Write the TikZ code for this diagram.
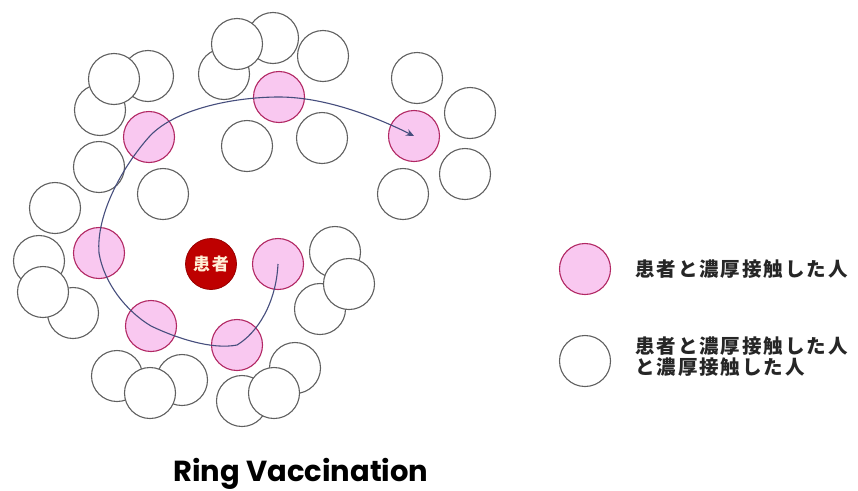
\documentclass[tikz,border=0pt]{standalone}
\usepackage{fontspec}
\newfontfamily\jpfont[LetterSpace=10]{Noto Sans CJK JP}
\newfontfamily\titlefont{Poppins}
\usetikzlibrary{arrows.meta}
\definecolor{pinkfill}{RGB}{249,200,240}
\definecolor{pinkline}{RGB}{178,40,100}
\definecolor{patred}{RGB}{190,0,0}
\definecolor{ringline}{RGB}{96,96,96}
\definecolor{spiral}{RGB}{70,78,125}
\begin{document}
\begin{tikzpicture}[x=1pt,y=-1pt,
  other/.style={circle, draw=ringline, fill=white, line width=1.1pt, minimum size=51pt, inner sep=0pt},
  close/.style={circle, draw=pinkline, fill=pinkfill, line width=1.1pt, minimum size=51pt, inner sep=0pt},
  patient/.style={circle, draw=patred!80!black, fill=patred, line width=0.8pt, minimum size=51pt, inner sep=0pt,
    text={rgb,255:red,255;green,240;blue,215}, font=\jpfont\bfseries\fontsize{17}{17}\selectfont},
  spiralline/.style={draw=spiral, line width=1.1pt, -{Stealth[length=8pt,width=7pt]}},
  legendtext/.style={anchor=west, align=left, inner sep=0pt, font=\jpfont\bfseries\fontsize{19.5}{21}\selectfont, text=black!85}
]
\useasboundingbox[fill=white] (0,0) rectangle (858,490);

% second ring (people who contacted close contacts)
\node[other] (w2) at (148,76) {};
\node[other] (w3) at (100,110) {};
\node[other] (w1) at (114,79) {};
\node[other] (w4) at (99,167) {};
\node[other] (w5) at (163,194) {};
\node[other] (w6) at (55,208) {};
\node[other] (w7) at (273,38) {};
\node[other] (w8) at (224,74) {};
\node[other] (w9) at (237,44) {};
\node[other] (w10) at (323,56) {};
\node[other] (w11) at (247,146) {};
\node[other] (w12) at (322,138) {};
\node[other] (w13) at (417,78) {};
\node[other] (w14) at (470,113) {};
\node[other] (w15) at (465,174) {};
\node[other] (w16) at (403,194) {};
\node[other] (w17) at (39,261) {};
\node[other] (w18) at (73,313) {};
\node[other] (w19) at (43,292) {};
\node[other] (w20) at (335,252) {};
\node[other] (w21) at (320,309) {};
\node[other] (w22) at (349,284) {};
\node[other] (w23) at (117,376) {};
\node[other] (w24) at (182,380) {};
\node[other] (w25) at (150,393) {};
\node[other] (w26) at (295,368) {};
\node[other] (w27) at (242,401) {};
\node[other] (w28) at (274,393) {};

% close contacts
\node[close] (p1) at (278,264) {};
\node[close] (p2) at (237,345) {};
\node[close] (p3) at (151,326) {};
\node[close] (p4) at (99,253) {};
\node[close] (p5) at (149,137) {};
\node[close] (p6) at (279,97) {};
\node[close] (p7) at (414,136) {};

% patient
\node[patient] (pt) at (211,264) {患者};

% spiral
\draw[spiralline] (p1.center)
  .. controls +(-2,40) and +(20,-12) .. (p2.center)
  .. controls +(-25,5) and +(25,12) .. (p3.center)
  .. controls +(-25,-15) and +(5,30) .. (p4.center)
  .. controls +(-3,-40) and +(-25,28) .. (p5.center)
  .. controls +(25,-28) and +(-45,0) .. (p6.center)
  .. controls +(45,0) and +(-40,-20) .. (p7.center);

% legend
\node[close] (lg1) at (585,269) {};
\node[other] (lg2) at (585,361) {};
\node[legendtext] (lt1) at (635,269) {患者と濃厚接触した人};
\node[legendtext] (lt2) at (635,357) {患者と濃厚接触した人\\と濃厚接触した人};

% title
\node[anchor=base, inner sep=0pt, font=\titlefont\bfseries\fontsize{29}{29}\selectfont] (title) at (301,481) {Ring Vaccination};
\end{tikzpicture}
\end{document}
